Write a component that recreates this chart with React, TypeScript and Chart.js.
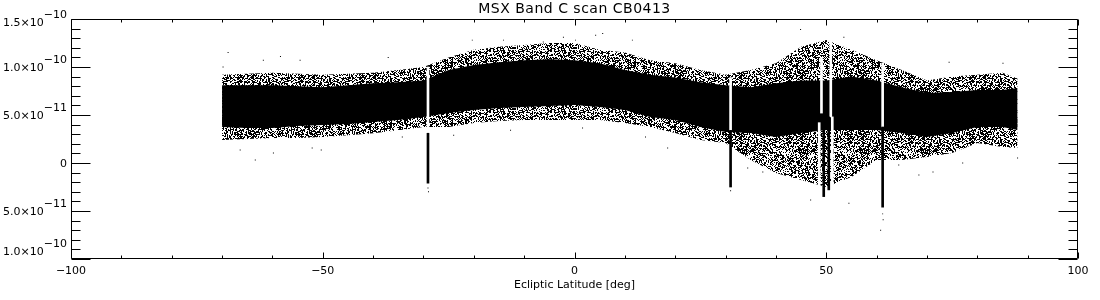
import React, { useEffect, useRef } from "react";
import { Chart, registerables } from "chart.js";

Chart.register(...registerables);

// values are in units of 1e-11
const SCALE = 1e-11;

const TITLE = "MSX Band C scan CB0413";
const X_TITLE = "Ecliptic Latitude [deg]";

// ecliptic latitude samples of the scan envelope (deg)
const latitude = [-70, -65, -60, -55, -50, -45, -40, -35, -30, -25, -20, -15, -10, -5, 0, 5, 10, 15, 20, 25, 30, 35, 40, 45, 50, 55, 60, 65, 70, 75, 80, 85, 88];
// upper edge of the scattered points
const speckleTop = [9.2, 9.3, 9.4, 9.3, 9.2, 9.3, 9.4, 9.7, 10.0, 11.0, 11.8, 12.1, 12.3, 12.5, 12.5, 11.8, 11.5, 10.7, 10.4, 9.7, 9.2, 9.7, 10.4, 12.1, 12.8, 11.8, 10.7, 9.7, 8.6, 9.0, 9.2, 9.4, 8.8];
// upper edge of the solid core
const coreTop = [8.1, 8.1, 8.1, 8.0, 7.9, 8.1, 8.3, 8.4, 8.6, 9.7, 10.2, 10.5, 10.7, 10.8, 10.7, 10.4, 9.7, 9.2, 8.9, 8.4, 8.1, 7.9, 8.3, 8.6, 8.6, 9.0, 8.6, 7.9, 7.3, 7.4, 7.6, 7.6, 7.8];
// lower edge of the solid core
const coreBottom = [3.75, 3.65, 3.65, 3.85, 3.96, 4.06, 4.27, 4.48, 4.79, 5.21, 5.52, 5.73, 5.83, 5.94, 6.04, 5.83, 5.52, 4.79, 4.48, 3.75, 3.23, 3.12, 2.71, 3.12, 3.44, 3.44, 3.44, 3.12, 2.71, 3.12, 3.75, 3.75, 3.44];
// lower edge of the scattered points
const speckleBottom = [2.4, 2.5, 2.6, 2.6, 2.7, 2.9, 3.1, 3.4, 3.75, 3.75, 4.17, 4.38, 4.48, 4.48, 4.48, 4.48, 4.17, 3.75, 3.12, 2.4, 2.08, 0.31, -1.04, -1.77, -2.5, -1.46, 0.31, 0.31, 0.62, 1.04, 2.08, 1.67, 1.56];

// empty (white) stripes through the band
const gapLatitude = [-29.1, 31.0, 61.2, 49.05, 50.9, 48.6, 51.2];
const gapLow = [3.1, 3.4, 3.75, 5.2, 4.8, -3.5, -2.5];
const gapHigh = [10.0, 8.9, 10.4, 11.0, 12.8, 4.2, 4.8];

// negative excursions (solid black stripes)
const dipLatitude = [-29.1, 31.0, 61.2, 49.5, 50.5];
const dipLow = [-2.1, -2.5, -4.6, -3.5, -2.8];
const dipHigh = [3.1, 3.4, 3.75, 4.8, 4.8];

// isolated outlying samples
const outlierLatitude = [-69.8, -68.8, -66.4, -63.4, -61.8, -59.8, -58.4, -54.5, -52.1, -50.3, -37.0, -34.2, -24.0, -20.3, -14.1, -12.7, -6.2, -2.2, 0.2, 1.6, 4.2, 5.6, 11.5, 14.1, 18.5, 34.4, 37.4, 44.9, 53.5, 46.9, 54.5, 60.8, 61.2, 61.3, 64.4, 68.4, 71.2, 74.4, 77.1, 85.1, 88.0, -29.1, -29.0, 31.0];
const outlierValue = [10.0, 11.5, 1.35, 0.31, 10.7, 1.04, 11.1, 10.7, 1.56, 1.35, 11.0, 2.7, 2.9, 12.8, 12.8, 3.4, 12.6, 13.1, 12.8, 3.65, 13.3, 13.5, 12.8, 2.7, 1.56, -0.52, -0.94, 13.9, 13.1, -3.85, -4.2, -7.0, -5.3, -5.9, -0.2, -1.25, -0.94, 10.5, 0.0, 10.4, 0.52, -2.6, -3.0, -2.9];

// axis ticks
const xTickValues = [-100, -50, 0, 50, 100];
const xTickLabels = ["\u2212100", "\u221250", "0", "50", "100"];
const xMinorStep = 10;
const yTickValues = [15, 10, 5, 0, -5, -10];
const yTickMantissa = ["1.5\u00d710", "1.0\u00d710", "5.0\u00d710", "0", "5.0\u00d710", "1.0\u00d710"];
const yTickExponent = ["\u221210", "\u221210", "\u221211", "", "\u221211", "\u221210"];
const yMinorStep = 1;

// dithered texture used to render the scattered-point zone (a fill style)
function makeSpeckle(ctx: CanvasRenderingContext2D, size: number, density: number) {
  const c = document.createElement("canvas");
  c.width = size;
  c.height = size;
  const g = c.getContext("2d")!;
  g.fillStyle = "#000";
  for (let j = 0; j < size; j++) {
    for (let i = 0; i < size; i++) {
      let h = (i * 374761393 + j * 668265263) | 0;
      h = Math.imul(h ^ (h >>> 13), 1274126177);
      h = (h ^ (h >>> 16)) >>> 0;
      if (h / 4294967296 < density) g.fillRect(i, j, 1, 1);
    }
  }
  return ctx.createPattern(c, "repeat")!;
}

const FONT = '"DejaVu Sans", sans-serif';

const idlAxes = {
  id: "idlAxes",
  afterDraw(chart: any) {
    const { ctx, chartArea: a, scales } = chart;
    const xs = scales.x;
    const ys = scales.y;
    const L = Math.round(a.left) + 0.5;
    const R = Math.round(a.right) - 0.5;
    const T = Math.round(a.top) + 0.5;
    const B = Math.round(a.bottom) - 0.5;
    ctx.save();
    ctx.strokeStyle = "#000";
    ctx.lineWidth = 1;
    ctx.beginPath();
    ctx.rect(L, T, R - L, B - T);
    for (let v = yTickValues[yTickValues.length - 1]; v <= yTickValues[0]; v += yMinorStep) {
      const py = Math.round(ys.getPixelForValue(v * SCALE)) + 0.5;
      const len = yTickValues.includes(v) ? 19 : 9;
      ctx.moveTo(L, py);
      ctx.lineTo(L + len, py);
      ctx.moveTo(R, py);
      ctx.lineTo(R - len, py);
    }
    for (let v = xTickValues[0]; v <= xTickValues[xTickValues.length - 1]; v += xMinorStep) {
      const px = Math.round(xs.getPixelForValue(v)) + 0.5;
      const len = xTickValues.includes(v) ? 6 : 3;
      ctx.moveTo(px, B);
      ctx.lineTo(px, B - len);
      ctx.moveTo(px, T);
      ctx.lineTo(px, T + len);
    }
    ctx.stroke();

    ctx.fillStyle = "#000";
    ctx.font = `14px ${FONT}`;
    (ctx as any).letterSpacing = "0.5px";
    ctx.textAlign = "center";
    ctx.textBaseline = "middle";
    ctx.fillText(TITLE, (a.left + a.right) / 2, 9);
    (ctx as any).letterSpacing = "0px";

    ctx.font = `11px ${FONT}`;
    xTickValues.forEach((v, i) => {
      ctx.fillText(xTickLabels[i], xs.getPixelForValue(v), a.bottom + 12);
    });
    ctx.fillText(X_TITLE, (a.left + a.right) / 2, a.bottom + 26);

    ctx.textAlign = "left";
    yTickValues.forEach((v, i) => {
      let py = ys.getPixelForValue(v * SCALE) + 1;
      if (i === 0) py += 3;
      if (i === yTickValues.length - 1) py -= 8;
      const m = yTickMantissa[i];
      const e = yTickExponent[i];
      const mw = ctx.measureText(m).width;
      const ew = e ? ctx.measureText(e).width : 0;
      const x0 = a.left - 4 - mw - ew;
      ctx.fillText(m, x0, py);
      if (e) ctx.fillText(e, x0 + mw, py - 8);
    });
    ctx.restore();
  },
};

export default function App() {
  const ref = useRef<HTMLCanvasElement | null>(null);

  useEffect(() => {
    const canvas = ref.current!;
    const ctx = canvas.getContext("2d")!;
    const speckle = makeSpeckle(ctx, 61, 0.5);
    const pts = (ys: number[]) => latitude.map((x, i) => ({ x, y: ys[i] * SCALE }));
    const band = { borderWidth: 0, borderColor: "transparent", pointRadius: 0, tension: 0 };

    const chart = new Chart(canvas, {
      type: "line",
      data: {
        datasets: [
          { type: "line", label: "scatter top", data: pts(speckleTop), ...band, fill: "+1", backgroundColor: speckle, order: 6 } as any,
          { type: "line", label: "scatter bottom", data: pts(speckleBottom), ...band, fill: false, order: 6 } as any,
          { type: "line", label: "core top", data: pts(coreTop), ...band, fill: "+1", backgroundColor: "#000", order: 5 } as any,
          { type: "line", label: "core bottom", data: pts(coreBottom), ...band, fill: false, order: 5 } as any,
          { type: "bar", label: "gaps", data: gapLatitude.map((x, i) => ({ x, y: [gapLow[i] * SCALE, gapHigh[i] * SCALE] })), backgroundColor: "#fff", borderWidth: 0, barThickness: 2, grouped: false, order: 3 } as any,
          { type: "bar", label: "dips", data: dipLatitude.map((x, i) => ({ x, y: [dipLow[i] * SCALE, dipHigh[i] * SCALE] })), backgroundColor: "#000", borderWidth: 0, barThickness: 2, grouped: false, order: 2 } as any,
          { type: "scatter", label: "outliers", data: outlierLatitude.map((x, i) => ({ x, y: outlierValue[i] * SCALE })), pointStyle: "rect", pointRadius: 0.7, backgroundColor: "#000", borderWidth: 0, showLine: false, order: 1 } as any,
        ],
      },
      options: {
        responsive: false,
        animation: false,
        events: [],
        layout: { padding: { left: 71, right: 22, top: 19, bottom: 41 } },
        plugins: { legend: { display: false }, tooltip: { enabled: false }, title: { display: false } },
        scales: {
          x: { type: "linear", min: -100, max: 100, offset: false, display: false },
          y: { type: "linear", min: -10 * SCALE, max: 15 * SCALE, display: false },
        },
      },
      plugins: [idlAxes],
    });
    return () => chart.destroy();
  }, []);

  return (
    <div style={{ position: "fixed", left: 0, top: 0, width: 1100, height: 300, background: "#fff" }}>
      <canvas ref={ref} width={1100} height={300} style={{ display: "block" }} />
    </div>
  );
}
